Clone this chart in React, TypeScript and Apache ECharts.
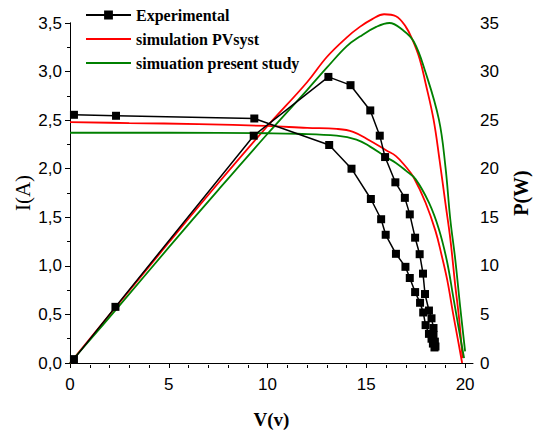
import React, { useEffect, useRef } from 'react';
import * as echarts from 'echarts';

// Axis tick positions
const xMajorTicks = [0, 5, 10, 15, 20];
const xMinorTicks = [1, 2, 3, 4, 6, 7, 8, 9, 11, 12, 13, 14, 16, 17, 18, 19];

// Legend names
const nameExp = 'Experimental';
const namePVsyst = 'simulation PVsyst';
const namePresent = 'simuation present study';

// Experimental I-V
const expIVVoltage = [0.2, 2.33, 9.33, 13.12, 14.25, 15.23, 15.75, 15.98, 16.5, 16.98, 17.2, 17.47, 17.72, 17.88, 18.0, 18.17, 18.3, 18.37, 18.45];
const expCurrent = [2.555, 2.545, 2.517, 2.244, 2.0, 1.688, 1.48, 1.32, 1.124, 0.99, 0.875, 0.73, 0.62, 0.52, 0.39, 0.3, 0.25, 0.2, 0.16];

// Experimental P-V
const expPVVoltage = [0.2, 2.3, 9.3, 13.08, 14.2, 15.2, 15.68, 15.95, 16.47, 16.95, 17.2, 17.47, 17.7, 17.87, 17.97, 18.17, 18.3, 18.4, 18.4, 18.47, 18.5];
const expPower = [0.4, 5.78, 23.4, 29.45, 28.6, 26.0, 23.4, 21.2, 18.6, 17.0, 15.3, 12.9, 11.2, 9.2, 7.1, 5.4, 4.6, 3.6, 2.9, 2.2, 1.7];

// PVsyst simulation I-V
const pvsystIVVoltage = [0, 3, 6.5, 10, 12, 13.5, 14.33, 15.17, 16.0, 16.5, 17.0, 17.4, 18.0, 18.5, 18.8, 19.1, 19.4, 19.6, 19.85];
const pvsystCurrent = [2.48, 2.47, 2.46, 2.44, 2.42, 2.41, 2.38, 2.29, 2.19, 2.13, 2.02, 1.91, 1.65, 1.36, 1.12, 0.85, 0.5, 0.28, 0.0];

// PVsyst simulation P-V
const pvsystPVVoltage = [0, 2.5, 5, 7.5, 10, 12, 13, 14, 14.67, 15.3, 15.9, 16.5, 17.0, 17.33, 17.7, 18.0, 18.4, 18.7, 19.0, 19.25, 19.5, 19.7, 19.87];
const pvsystPower = [0, 6.2, 12.4, 18.5, 24.4, 28.9, 31.5, 33.5, 34.6, 35.4, 35.9, 35.7, 34.6, 33.3, 31.3, 28.8, 25.1, 21.0, 16.5, 12.8, 8.0, 4.5, 0.5];

// Present study simulation I-V
const presentIVVoltage = [0, 5, 10, 11.5, 13.5, 14.5, 15.17, 16.0, 16.5, 17.0, 17.5, 18.17, 18.67, 19.08, 19.4, 19.7, 19.95];
const presentCurrent = [2.37, 2.37, 2.365, 2.36, 2.34, 2.3, 2.23, 2.12, 2.06, 1.98, 1.89, 1.65, 1.38, 1.05, 0.68, 0.33, 0.05];

// Present study simulation P-V
const presentPVVoltage = [0, 2.5, 5, 7.5, 10, 12, 13, 14, 14.67, 15.5, 16.17, 16.83, 17.4, 18.0, 18.67, 19.0, 19.25, 19.5, 19.75, 20.0];
const presentPower = [0, 5.9, 11.9, 17.8, 23.6, 28.1, 30.4, 32.6, 33.6, 34.6, 35.0, 34.3, 33.1, 29.9, 25.1, 20.3, 14.8, 10.7, 5.8, 1.2];

const zip = (a: number[], b: number[]) => a.map((v, i) => [v, b[i]]);

export default function App() {
  const ref = useRef<HTMLDivElement>(null);
  useEffect(() => {
    const chart = echarts.init(ref.current!, null, { renderer: 'svg' });
    const tickFont = { fontFamily: 'Liberation Sans, Arial, sans-serif', fontSize: 17, color: '#000' };
    const red = '#ff0000';
    const green = '#008000';
    const lineIcon = 'path://M0,0H45V2H0Z';
    chart.setOption({
      animation: false,
      backgroundColor: '#ffffff',
      grid: { left: 70, right: 61, top: 23, bottom: 69 },
      legend: {
        orient: 'vertical',
        left: 85,
        top: 3,
        padding: 0,
        itemWidth: 45,
        itemHeight: 11,
        itemGap: 0,
        selectedMode: false,
        data: [
          { name: nameExp },
          { name: namePVsyst, icon: lineIcon, itemStyle: { color: red } },
          { name: namePresent, icon: lineIcon, itemStyle: { color: green } },
        ],
        textStyle: { fontFamily: 'Liberation Serif, Times New Roman, serif', fontWeight: 'bold', fontSize: 16, color: '#000', lineHeight: 24 },
      },
      xAxis: [
        {
          type: 'value', min: 0, max: 20.4, interval: 5, position: 'bottom',
          name: 'V(v)', nameLocation: 'middle', nameGap: 47,
          nameTextStyle: { fontFamily: 'Liberation Serif, Times New Roman, serif', fontWeight: 'bold', fontSize: 19, color: '#000' },
          axisLine: { show: true, onZero: false, lineStyle: { color: '#000', width: 1 } },
          axisTick: { show: true, length: 5, customValues: xMajorTicks, lineStyle: { color: '#000' } },
          axisLabel: { ...tickFont, margin: 13, customValues: xMajorTicks, formatter: (v: number) => (v % 5 === 0 ? String(v) : '') },
          splitLine: { show: false },
        },
        {
          type: 'value', min: 0, max: 20.4, interval: 1, position: 'top', offset: -342,
          axisLine: { show: false },
          axisTick: { show: true, inside: true, length: 3, customValues: xMinorTicks, lineStyle: { color: '#000' } },
          axisLabel: { show: false },
          splitLine: { show: false },
        },
      ],
      yAxis: [
        {
          type: 'value', min: 0, max: 3.5, interval: 0.5, position: 'left',
          name: 'I(A)', nameLocation: 'middle', nameGap: 37, nameRotate: 90, nameMoveOverlap: false,
          nameTextStyle: { fontFamily: 'Liberation Serif, Times New Roman, serif', fontSize: 21, color: '#000' },
          axisLine: { show: true, lineStyle: { color: '#000', width: 1 } },
          axisTick: { show: true, length: 5, lineStyle: { color: '#000' } },
          minorTick: { show: true, splitNumber: 2, length: 3, lineStyle: { color: '#000' } },
          axisLabel: { ...tickFont, margin: 8, formatter: (v: number) => v.toFixed(1).replace('.', ',') },
          splitLine: { show: false },
          minorSplitLine: { show: false },
        },
        {
          type: 'value', min: 0, max: 35, interval: 5, position: 'right',
          name: 'P(W)', nameLocation: 'middle', nameGap: 38, nameRotate: 90,
          nameTextStyle: { fontFamily: 'Liberation Serif, Times New Roman, serif', fontWeight: 'bold', fontSize: 20, color: '#000' },
          axisLine: { show: true, lineStyle: { color: '#000', width: 1 } },
          axisTick: { show: true, inside: true, length: 5, lineStyle: { color: '#000' } },
          minorTick: { show: true, splitNumber: 2, length: 3, lineStyle: { color: '#000' } },
          axisLabel: { ...tickFont, margin: 7 },
          splitLine: { show: false },
          minorSplitLine: { show: false },
        },
      ],
      series: [
        { name: namePVsyst, type: 'line', clip: false, xAxisIndex: 0, yAxisIndex: 0, data: zip(pvsystIVVoltage, pvsystCurrent), symbol: 'none', smooth: 0.4, color: red, lineStyle: { color: red, width: 1.8 } },
        { name: namePVsyst, type: 'line', clip: false, xAxisIndex: 0, yAxisIndex: 1, data: zip(pvsystPVVoltage, pvsystPower), symbol: 'none', smooth: 0.4, color: red, lineStyle: { color: red, width: 1.8 } },
        { name: namePresent, type: 'line', clip: false, xAxisIndex: 0, yAxisIndex: 0, data: zip(presentIVVoltage, presentCurrent), symbol: 'none', smooth: 0.4, color: green, lineStyle: { color: green, width: 1.8 } },
        { name: namePresent, type: 'line', clip: false, xAxisIndex: 0, yAxisIndex: 1, data: zip(presentPVVoltage, presentPower), symbol: 'none', smooth: 0.4, color: green, lineStyle: { color: green, width: 1.8 } },
        { name: nameExp, type: 'line', clip: false, xAxisIndex: 0, yAxisIndex: 0, data: zip(expIVVoltage, expCurrent), symbol: 'rect', symbolSize: 8, color: '#000', itemStyle: { color: '#000' }, lineStyle: { color: '#000', width: 1.5 } },
        { name: nameExp, type: 'line', clip: false, xAxisIndex: 0, yAxisIndex: 1, data: zip(expPVVoltage, expPower), symbol: 'rect', symbolSize: 8, color: '#000', itemStyle: { color: '#000' }, lineStyle: { color: '#000', width: 1.5 } },
      ],
    });
    return () => chart.dispose();
  }, []);
  return <div ref={ref} style={{ position: 'fixed', left: 0, top: 0, width: 539, height: 434, background: '#fff' }} />;
}
